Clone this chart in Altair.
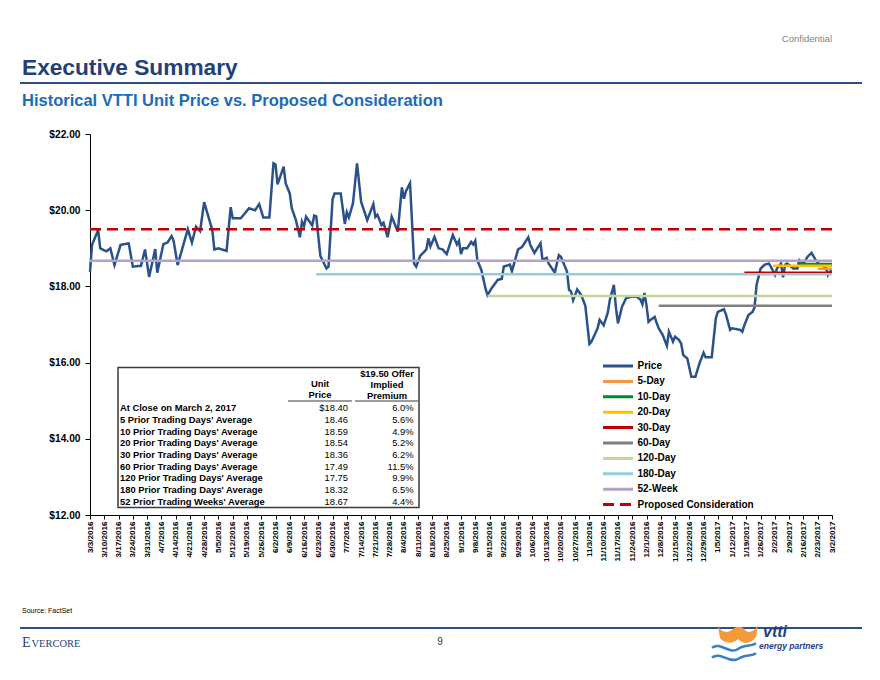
import altair as alt
import pandas as pd

# ---------------- data ----------------
price_dates = [
    "2016-03-03", "2016-03-04", "2016-03-07", "2016-03-08", "2016-03-11", "2016-03-13", "2016-03-15", "2016-03-18",
    "2016-03-22", "2016-03-24", "2016-03-28", "2016-03-30", "2016-04-01", "2016-04-04", "2016-04-05", "2016-04-08",
    "2016-04-10", "2016-04-12", "2016-04-13", "2016-04-15", "2016-04-18", "2016-04-20", "2016-04-22", "2016-04-24",
    "2016-04-26", "2016-04-28", "2016-05-02", "2016-05-03", "2016-05-05", "2016-05-09", "2016-05-11", "2016-05-12",
    "2016-05-16", "2016-05-20", "2016-05-23", "2016-05-25", "2016-05-27", "2016-05-30", "2016-06-01", "2016-06-02",
    "2016-06-03", "2016-06-06", "2016-06-07", "2016-06-09", "2016-06-10", "2016-06-12", "2016-06-14", "2016-06-15",
    "2016-06-16", "2016-06-17", "2016-06-20", "2016-06-21", "2016-06-22", "2016-06-24", "2016-06-27", "2016-06-28",
    "2016-06-30", "2016-07-01", "2016-07-04", "2016-07-06", "2016-07-07", "2016-07-08", "2016-07-10", "2016-07-12",
    "2016-07-14", "2016-07-17", "2016-07-20", "2016-07-21", "2016-07-22", "2016-07-24", "2016-07-25", "2016-07-27",
    "2016-07-29", "2016-08-01", "2016-08-03", "2016-08-04", "2016-08-05", "2016-08-07", "2016-08-09", "2016-08-10",
    "2016-08-12", "2016-08-15", "2016-08-16", "2016-08-17", "2016-08-19", "2016-08-21", "2016-08-23", "2016-08-25",
    "2016-08-28", "2016-08-30", "2016-08-31", "2016-09-01", "2016-09-02", "2016-09-04", "2016-09-06", "2016-09-07",
    "2016-09-08", "2016-09-09", "2016-09-11", "2016-09-13", "2016-09-14", "2016-09-16", "2016-09-19", "2016-09-21",
    "2016-09-22", "2016-09-25", "2016-09-26", "2016-09-29", "2016-10-01", "2016-10-04", "2016-10-05", "2016-10-07",
    "2016-10-10", "2016-10-11", "2016-10-13", "2016-10-14", "2016-10-17", "2016-10-19", "2016-10-20", "2016-10-23",
    "2016-10-24", "2016-10-25", "2016-10-26", "2016-10-28", "2016-10-30", "2016-11-01", "2016-11-03", "2016-11-04",
    "2016-11-07", "2016-11-08", "2016-11-10", "2016-11-12", "2016-11-13", "2016-11-15", "2016-11-16", "2016-11-17",
    "2016-11-19", "2016-11-21", "2016-11-24", "2016-11-26", "2016-11-28", "2016-11-29", "2016-11-30", "2016-12-01",
    "2016-12-02", "2016-12-03", "2016-12-05", "2016-12-06", "2016-12-07", "2016-12-09", "2016-12-11", "2016-12-12",
    "2016-12-14", "2016-12-15", "2016-12-17", "2016-12-18", "2016-12-19", "2016-12-21", "2016-12-23", "2016-12-25",
    "2016-12-27", "2016-12-29", "2016-12-30", "2017-01-02", "2017-01-04", "2017-01-05", "2017-01-08", "2017-01-09",
    "2017-01-11", "2017-01-12", "2017-01-16", "2017-01-17", "2017-01-18", "2017-01-20", "2017-01-22", "2017-01-23",
    "2017-01-24", "2017-01-26", "2017-01-28", "2017-01-30", "2017-01-31", "2017-02-02", "2017-02-03", "2017-02-05",
    "2017-02-06", "2017-02-07", "2017-02-08", "2017-02-11", "2017-02-13", "2017-02-14", "2017-02-16", "2017-02-18",
    "2017-02-20", "2017-02-22", "2017-02-24", "2017-02-26", "2017-02-27", "2017-02-28", "2017-03-01", "2017-03-02",
]
prices = [
    18.38, 19.09, 19.48, 19.00, 18.92, 19.00, 18.56, 19.09,
    19.13, 18.52, 18.54, 18.97, 18.25, 18.98, 18.36, 19.11,
    19.15, 19.32, 19.20, 18.56, 19.13, 19.50, 19.15, 19.57,
    19.45, 20.21, 19.48, 18.97, 19.00, 18.93, 20.08, 19.79,
    19.79, 20.05, 20.00, 20.16, 19.81, 19.81, 21.23, 21.20,
    20.68, 21.14, 20.70, 20.44, 20.05, 19.74, 19.29, 19.70,
    19.58, 19.83, 19.60, 19.86, 19.84, 18.80, 18.47, 18.52,
    20.29, 20.44, 20.44, 19.64, 19.95, 19.81, 20.18, 21.23,
    20.22, 19.74, 20.16, 19.82, 19.88, 19.61, 19.67, 19.29,
    19.83, 19.44, 20.60, 20.30, 20.50, 20.71, 18.60, 18.52,
    18.80, 18.97, 19.26, 19.05, 19.30, 19.00, 18.97, 18.85,
    19.35, 19.10, 19.20, 18.85, 19.00, 19.00, 19.17, 19.10,
    19.20, 18.69, 18.43, 17.95, 17.77, 17.95, 18.17, 18.20,
    18.52, 18.57, 18.40, 18.97, 19.04, 19.29, 19.09, 18.88,
    19.13, 18.69, 18.75, 18.60, 18.36, 18.82, 18.78, 18.39,
    17.91, 17.87, 17.64, 17.92, 17.77, 17.49, 16.49, 16.55,
    16.90, 17.12, 16.98, 17.31, 17.64, 18.04, 17.44, 17.03,
    17.47, 17.69, 17.73, 17.73, 17.66, 17.53, 17.83, 17.50,
    17.07, 17.12, 17.20, 17.04, 16.90, 16.72, 16.44, 16.81,
    16.55, 16.68, 16.59, 16.50, 16.20, 16.11, 15.63, 15.63,
    15.98, 16.26, 16.14, 16.14, 17.16, 17.33, 17.40, 17.26,
    16.86, 16.90, 16.86, 16.81, 16.98, 17.25, 17.33, 17.45,
    18.04, 18.47, 18.57, 18.60, 18.52, 18.30, 18.47, 18.60,
    18.24, 18.57, 18.60, 18.47, 18.47, 18.69, 18.60, 18.78,
    18.88, 18.69, 18.57, 18.52, 18.50, 18.30, 18.39, 18.40,
]

START_DATE = "2016-03-03"
END_DATE = "2017-03-02"

avg_names = ["5-Day", "10-Day", "20-Day", "30-Day", "60-Day", "120-Day", "180-Day", "52-Week",
             "Proposed Consideration"]
avg_values = [18.46, 18.59, 18.54, 18.36, 17.49, 17.75, 18.32, 18.67, 19.50]
avg_starts = ["2017-02-23", "2017-02-13", "2017-02-01", "2017-01-18", "2016-12-07", "2016-09-14",
              "2016-06-22", "2016-03-03", "2016-03-03"]

series_names = ["Price"] + avg_names
series_colors = ["#2A5189", "#F79646", "#00892C", "#FFC000", "#C00000", "#7F7F7F", "#C3D69B",
                 "#93CDDD", "#B3A2C7", "#C00000"]
series_dash = [[1, 0]] * 9 + [[11, 6]]

week_ticks = [
    "2016-03-03", "2016-03-10", "2016-03-17", "2016-03-24", "2016-03-31", "2016-04-07", "2016-04-14",
    "2016-04-21", "2016-04-28", "2016-05-05", "2016-05-12", "2016-05-19", "2016-05-26", "2016-06-02",
    "2016-06-09", "2016-06-16", "2016-06-23", "2016-06-30", "2016-07-07", "2016-07-14", "2016-07-21",
    "2016-07-28", "2016-08-04", "2016-08-11", "2016-08-18", "2016-08-25", "2016-09-01", "2016-09-08",
    "2016-09-15", "2016-09-22", "2016-09-29", "2016-10-06", "2016-10-13", "2016-10-20", "2016-10-27",
    "2016-11-03", "2016-11-10", "2016-11-17", "2016-11-24", "2016-12-01", "2016-12-08", "2016-12-15",
    "2016-12-22", "2016-12-29", "2017-01-05", "2017-01-12", "2017-01-19", "2017-01-26", "2017-02-02",
    "2017-02-09", "2017-02-16", "2017-02-23", "2017-03-02",
]
y_ticks = [12, 14, 16, 18, 20, 22]

table_labels = ["At Close on March 2, 2017", "5 Prior Trading Days' Average",
                "10 Prior Trading Days' Average", "20 Prior Trading Days' Average",
                "30 Prior Trading Days' Average", "60 Prior Trading Days' Average",
                "120 Prior Trading Days' Average", "180 Prior Trading Days' Average",
                "52 Prior Trading Weeks' Average"]
table_prices = ["$18.40", "18.46", "18.59", "18.54", "18.36", "17.49", "17.75", "18.32", "18.67"]
table_premiums = ["6.0%", "5.6%", "4.9%", "5.2%", "6.2%", "11.5%", "9.9%", "6.5%", "4.4%"]
header_price = ["Unit", "Price"]
header_premium = ["$19.50 Offer", "Implied", "Premium"]

# ---------------- helpers ----------------
FONT = "Liberation Sans"
W, H = 742, 381          # plot area
PL, PT = 90, 134         # plot origin on the page


def ms(d):
    return int(pd.Timestamp(d).value // 10**6)


def px(x):  # page x -> plot x
    return x - PL


def py(y):  # page y -> plot y
    return y - PT


price_df = pd.DataFrame({"date": price_dates, "value": prices, "series": "Price"})
avg_rows = []
for n, v, s in zip(avg_names, avg_values, avg_starts):
    avg_rows.append({"date": s, "value": v, "series": n})
    avg_rows.append({"date": END_DATE, "value": v, "series": n})
avg_df = pd.DataFrame(avg_rows)

legend = alt.Legend(
    title=None, orient="none", legendX=521.5, legendY=225.5, padding=0,
    symbolType="M-3,0H3", symbolSize=100, symbolStrokeWidth=3,
    labelFont=FONT, labelFontSize=10, labelFontWeight="bold", labelColor="black",
    labelOffset=13, rowPadding=2.4, labelLimit=0,
)

x_axis = alt.Axis(
    values=[ms(d) for d in week_ticks], labelExpr="utcFormat(datum.value, '%-m/%-d/%Y')",
    labelAngle=270, labelAlign="right", labelBaseline="middle", labelFontSize=8.1,
    labelFontWeight="bold", labelPadding=2, tickSize=4, labelOverlap=False, labelFlush=False,
    labelBound=False, title=None,
)
x_scale = alt.Scale(type="utc", domain=[ms(START_DATE), ms(END_DATE)])
y_axis = alt.Axis(values=y_ticks, format="$.2f", labelFontSize=10.2, labelFontWeight="bold",
                  tickSize=5, labelPadding=5, title=None)
y_scale = alt.Scale(domain=[12, 22], nice=False, zero=False)

color_enc = alt.Color("series:N", scale=alt.Scale(domain=series_names, range=series_colors), legend=legend)
dash_enc = alt.StrokeDash("series:N", scale=alt.Scale(domain=series_names, range=series_dash), legend=legend)

price_line = alt.Chart(price_df).mark_line(strokeWidth=2.5).encode(
    x=alt.X("date:T", scale=x_scale, axis=x_axis),
    y=alt.Y("value:Q", scale=y_scale, axis=y_axis),
    color=color_enc, strokeDash=dash_enc)
avg_lines = alt.Chart(avg_df).mark_line(strokeWidth=2.5).encode(
    x=alt.X("date:T", scale=x_scale, axis=x_axis),
    y=alt.Y("value:Q", scale=y_scale, axis=y_axis),
    color=color_enc, strokeDash=dash_enc, detail="series:N")


def txt(s, x, y, size, color="black", weight="normal", align="left", baseline="middle",
        font=FONT, style="normal", line_height=None):
    kw = dict(fontSize=size, color=color, fontWeight=weight, align=align, baseline=baseline,
              font=font, fontStyle=style)
    if line_height:
        kw["lineHeight"] = line_height
    return alt.Chart(pd.DataFrame({"t": [s]})).mark_text(**kw).encode(
        x=alt.value(px(x)), y=alt.value(py(y)), text="t:N")


def hrule(x1, x2, y, color, width):
    return alt.Chart(pd.DataFrame({"a": [0]})).mark_rule(color=color, strokeWidth=width).encode(
        x=alt.value(px(x1)), x2=alt.value(px(x2)), y=alt.value(py(y)))


# table
table_box = alt.Chart(pd.DataFrame({"a": [0]})).mark_rect(
    fill="white", stroke="#3A3A3A", strokeWidth=1.5).encode(
    x=alt.value(px(118)), x2=alt.value(px(419)), y=alt.value(py(367.5)), y2=alt.value(py(507.5)))

first_row = 408.3
row_lh = 11.7
t_labels = txt(table_labels, 120, first_row, 9.4, weight="bold", line_height=row_lh)
t_prices = txt(table_prices, 348, first_row, 9.4, align="right", line_height=row_lh)
t_prem = txt(table_premiums, 413.5, first_row, 9.4, align="right", line_height=row_lh)
h_price = txt(header_price, 320, 384.2, 9.4, weight="bold", align="center", line_height=11.3)
h_prem = txt(header_premium, 387, 373.5, 9.4, weight="bold", align="center", line_height=11)
u1 = hrule(288, 352, 401, "#3A3A3A", 1.2)
u2 = hrule(355, 418, 401, "#3A3A3A", 1.2)

# page decoration
confidential = txt("Confidential", 832, 39, 9.5, color="#7F7F7F", align="right")
title = txt("Executive Summary", 22, 68, 22.7, color="#243F77", weight="bold")
subtitle = txt("Historical VTTI Unit Price vs. Proposed Consideration", 22, 101, 16.5,
               color="#1A6BB8", weight="bold")
top_rule = hrule(20, 862, 83, "#2D4E8C", 2.2)
source = txt("Source: FactSet", 22, 611, 7, color="black")
foot_rule = hrule(20, 862, 628, "#2D4E8C", 2.2)
ever_e = txt("E", 22, 647, 14, color="#243F77", baseline="alphabetic", font="Liberation Serif")
ever_rest = txt("VERCORE", 31.5, 647, 10.5, color="#243F77", baseline="alphabetic", font="Liberation Serif")
page_no = txt("9", 440, 642, 10, color="#333333", align="center")

logo_df = pd.DataFrame({"a": [0]})
orange_path = ("M-1,-0.5 C-0.85,-0.2 -0.55,-0.1 -0.25,-0.35 C-0.05,-0.5 0.2,-0.5 0.35,-0.3 "
               "C0.55,-0.1 0.85,-0.25 1,-0.55 L0.9,0.05 C0.6,0.45 0.2,0.4 0,0.15 "
               "C-0.3,0.45 -0.7,0.35 -0.9,0.1 Z")
wave_path = ("M-1,-0.15 C-0.6,-0.45 -0.2,0.2 0.2,-0.1 C0.5,-0.3 0.8,-0.2 1,-0.35 "
             "M-1,0.3 C-0.6,0 -0.2,0.6 0.2,0.35 C0.5,0.15 0.8,0.25 1,0.1")
logo_orange = alt.Chart(logo_df).mark_point(
    shape=orange_path, filled=True, size=1600, color="#F39A3B", opacity=1).encode(
    x=alt.value(px(738)), y=alt.value(py(636)))
logo_wave = alt.Chart(logo_df).mark_point(
    shape=wave_path, filled=False, size=1936, color="#3B7FC4", strokeWidth=2.5, opacity=1).encode(
    x=alt.value(px(734)), y=alt.value(py(651)))
logo_vtti = txt("vtti", 763, 632, 16, color="#1D3F8A", weight="bold", style="italic")
logo_ep = txt("energy partners", 759, 646, 8.5, color="#1D3F8A", weight="bold", style="italic")

chart = alt.layer(
    price_line, avg_lines,
    table_box, t_labels, t_prices, t_prem, h_price, h_prem, u1, u2,
    confidential, title, subtitle, top_rule, source, foot_rule, ever_e, ever_rest, page_no,
    logo_orange, logo_wave, logo_vtti, logo_ep,
).properties(
    width=W, height=H,
    autosize=alt.AutoSizeParams(type="none"),
    padding={"left": PL, "top": PT, "right": 880 - PL - W, "bottom": 680 - PT - H},
    background="white",
).configure_view(stroke=None).configure_axis(
    grid=False, domainColor="black", domainWidth=1, tickColor="black", labelColor="black",
    labelFont=FONT, labelOverlap=False,
)

chart.save("out.html", embed_options={"renderer": "svg", "actions": False})
